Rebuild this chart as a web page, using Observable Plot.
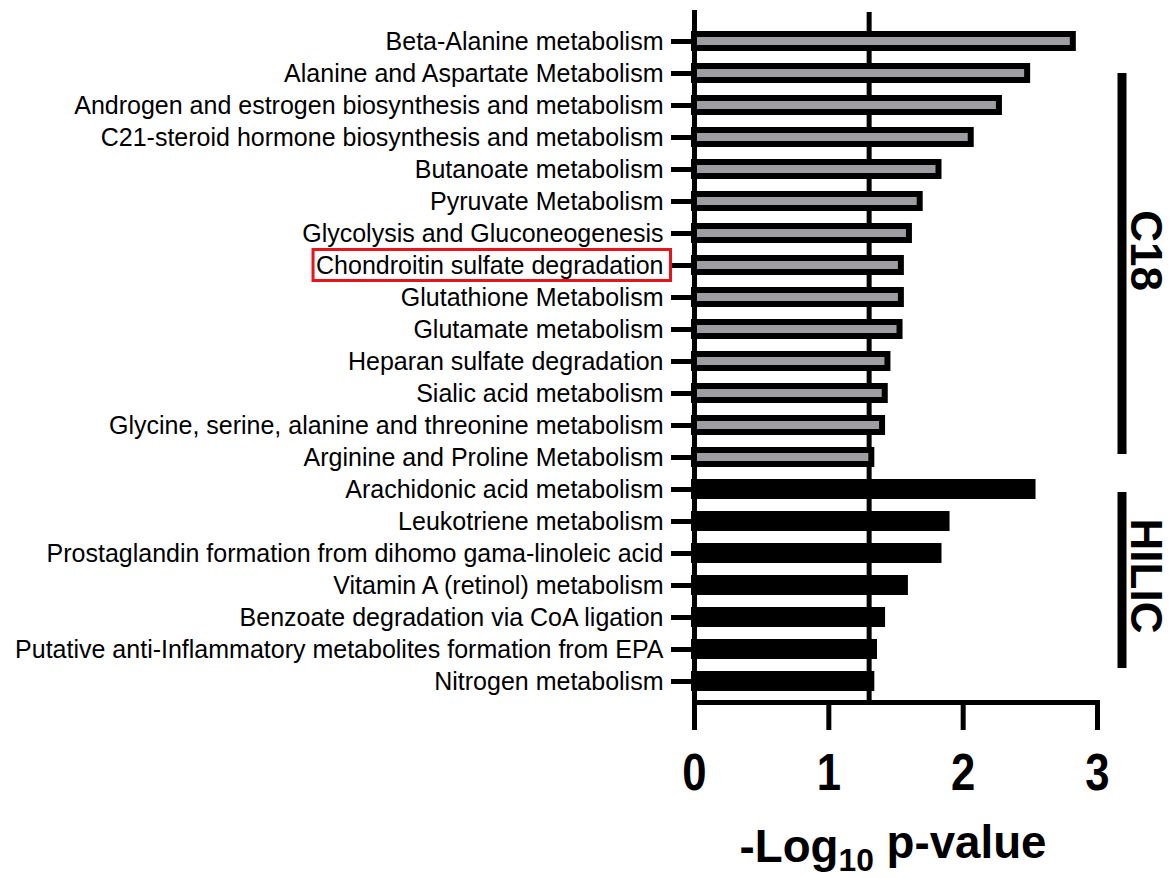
<!DOCTYPE html>
<html>
<head>
<meta charset="utf-8">
<script src="https://cdn.jsdelivr.net/npm/d3@7"></script>
<script src="https://cdn.jsdelivr.net/npm/@observablehq/plot@0.6"></script>
<style>
  html, body { margin: 0; padding: 0; background: #fff; }
  #chart svg { display: block; }
</style>
</head>
<body>
<div id="chart"></div>
<script>
const pathways = [
  "Beta-Alanine metabolism",
  "Alanine and Aspartate Metabolism",
  "Androgen and estrogen biosynthesis and metabolism",
  "C21-steroid hormone biosynthesis and metabolism",
  "Butanoate metabolism",
  "Pyruvate Metabolism",
  "Glycolysis and Gluconeogenesis",
  "Chondroitin sulfate degradation",
  "Glutathione Metabolism",
  "Glutamate metabolism",
  "Heparan sulfate degradation",
  "Sialic acid metabolism",
  "Glycine, serine, alanine and threonine metabolism",
  "Arginine and Proline Metabolism",
  "Arachidonic acid metabolism",
  "Leukotriene metabolism",
  "Prostaglandin formation from dihomo gama-linoleic acid",
  "Vitamin A (retinol) metabolism",
  "Benzoate degradation via CoA ligation",
  "Putative anti-Inflammatory metabolites formation from EPA",
  "Nitrogen metabolism"
];
const negLogP = [2.82, 2.48, 2.27, 2.06, 1.82, 1.68, 1.60, 1.54, 1.54, 1.53, 1.44, 1.42, 1.40, 1.32,
                 2.52, 1.88, 1.82, 1.57, 1.40, 1.34, 1.32];
const columnType = ["C18","C18","C18","C18","C18","C18","C18","C18","C18","C18","C18","C18","C18","C18",
                    "HILIC","HILIC","HILIC","HILIC","HILIC","HILIC","HILIC"];
const xTicks = [0, 1, 2, 3];
const threshold = [1.3];
const highlighted = "Chondroitin sulfate degradation";
const groups = ["C18", "HILIC"];

const data = pathways.map((p, i) => ({pathway: p, value: negLogP[i], type: columnType[i]}));

const W = 1172, H = 878;
const plot = Plot.plot({
  width: W,
  height: H,
  marginLeft: 694,
  marginRight: 75,
  marginTop: 12,
  marginBottom: 176,
  style: {fontFamily: "'Liberation Sans', Arial, sans-serif", color: "#000", background: "#fff"},
  x: {domain: [0, 3]},
  y: {domain: pathways, range: [25, 698], paddingInner: 0.56, paddingOuter: 0.28},
  color: {domain: groups, range: ["#9e9ea2", "#000000"]},
  marks: [
    Plot.ruleX(threshold, {stroke: "#000", strokeWidth: 5}),
    Plot.barX(data, {y: "pathway", x1: 0, x2: "value", fill: "type", stroke: "#000", strokeWidth: 6}),
    Plot.frame({anchor: "left", stroke: "#000", strokeWidth: 5}),
    Plot.frame({anchor: "bottom", stroke: "#000", strokeWidth: 5}),
    Plot.axisY({tickSize: 23, strokeWidth: 5, tickPadding: 8, fontSize: 25, label: null}),
    Plot.axisX({ticks: xTicks, tickSize: 28, strokeWidth: 5, tickPadding: 23, fontSize: 52,
                fontWeight: "bold", label: null, tickFormat: d => String(d)})
  ]
});
document.getElementById("chart").appendChild(plot);

const svg = d3.select(plot);
const y = plot.scale("y");

// condense the bold x tick numbers
svg.selectAll("g[aria-label='x-axis tick label'] text").each(function() {
  const len = this.getComputedTextLength();
  this.setAttribute("textLength", (len * 0.84).toFixed(1));
  this.setAttribute("lengthAdjust", "spacingAndGlyphs");
});

// axis title with subscript
const title = svg.append("text")
  .attr("x", 893).attr("y", 862)
  .attr("text-anchor", "middle")
  .attr("font-family", "'Liberation Sans', Arial, sans-serif")
  .attr("font-weight", "bold").attr("font-size", 46).attr("fill", "#000");
title.append("tspan").text("-Log");
title.append("tspan").attr("font-size", 32).attr("dy", "0.28em").text("10");
title.append("tspan").attr("dy", "-0.28em").text(" p-value");
{
  const node = title.node();
  const len = node.getComputedTextLength();
  node.setAttribute("textLength", Math.min(len, 307).toFixed(1));
  node.setAttribute("lengthAdjust", "spacingAndGlyphs");
}

// group brackets
const bw = y.bandwidth;
const yc = name => y.apply(name) + bw / 2;
const bx = 1122;
const grpExtent = {
  C18: [yc(pathways[1]), yc(pathways[13]) - 3],
  HILIC: [yc(pathways[14]) + 3, yc(pathways[19]) + 19]
};
const labelShift = {C18: -13, HILIC: -4};
groups.forEach(g => {
  const [a, b] = grpExtent[g];
  svg.append("line").attr("x1", bx).attr("x2", bx).attr("y1", a).attr("y2", b)
    .attr("stroke", "#000").attr("stroke-width", 9);
  const cy = (a + b) / 2 + labelShift[g];
  svg.append("text")
    .attr("transform", `translate(${1131},${cy}) rotate(90)`)
    .attr("text-anchor", "middle")
    .attr("font-family", "'Liberation Sans', Arial, sans-serif")
    .attr("font-weight", "bold").attr("font-size", 44).attr("fill", "#000")
    .text(g);
});

// red highlight box around the label
svg.selectAll("text").filter(function() { return this.textContent === highlighted; }).each(function() {
  const bb = this.getBBox();
  const m = this.getCTM();
  const svgM = plot.getCTM();
  const rel = svgM.inverse().multiply(m);
  const x0 = rel.a * bb.x + rel.e, y0 = rel.d * bb.y + rel.f;
  svg.append("rect")
    .attr("x", x0 - 3).attr("y", y0 - 1)
    .attr("width", bb.width + 10).attr("height", bb.height + 3)
    .attr("fill", "none").attr("stroke", "#e8141b").attr("stroke-width", 3);
});
</script>
</body>
</html>
